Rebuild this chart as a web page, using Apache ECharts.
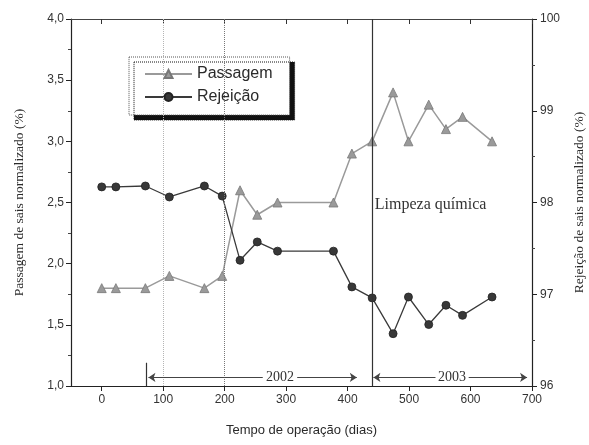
<!DOCTYPE html>
<html>
<head>
<meta charset="utf-8">
<script src="https://cdn.jsdelivr.net/npm/echarts@6/dist/echarts.min.js"></script>
<style>
  html, body { margin: 0; padding: 0; background: #fff; }
  #chart { width: 589px; height: 445px; }
</style>
</head>
<body>
<div id="chart"></div>
<script>
// Operating time (days) of each sample
const dias = [0, 23, 71, 110, 167, 196, 225, 253, 286, 377, 407, 440, 474, 499, 532, 560, 587, 635];
// Normalized salt passage (%), left axis
const passagem = [1.8, 1.8, 1.8, 1.9, 1.8, 1.9, 2.6, 2.4, 2.5, 2.5, 2.9, 3.0, 3.4, 3.0, 3.3, 3.1, 3.2, 3.0];
// Normalized salt rejection (%), right axis
const rejeicao = [98.17, 98.17, 98.18, 98.06, 98.18, 98.07, 97.37, 97.57, 97.47, 97.47, 97.08, 96.96, 96.57, 96.97, 96.67, 96.88, 96.77, 96.97];

// Tick positions on the time axis
const xTicks = [0, 100, 200, 300, 400, 500, 600, 700];

// Day of the chemical cleaning, and the year spans marked below the curves
const diaLimpeza = 440;
const inicio2002 = 72;
const fim2002 = 415;
const fim2003 = 692;

const serif = "'Liberation Serif', 'DejaVu Serif', serif";
const sans = "'Liberation Sans', Arial, sans-serif";
const ink = '#2a2a2a';

const pairs = (ys) => dias.map((d, i) => [d, ys[i]]);

const arrowY = 1.07;
const chart = echarts.init(document.getElementById('chart'), null, { renderer: 'canvas' });

chart.setOption({
  animation: false,
  backgroundColor: '#fff',
  grid: { left: 71, right: 57, top: 19, bottom: 59, containLabel: false, outerBoundsMode: 'none' },
  legend: {
    orient: 'vertical',
    left: 129,
    top: 57,
    padding: [9, 17, 10, 15],
    itemGap: 7,
    itemWidth: 47,
    itemHeight: 10,
    backgroundColor: '#fff',
    borderColor: '#555',
    borderWidth: 1,
    borderType: 'dotted',
    shadowColor: '#111',
    shadowBlur: 0,
    shadowOffsetX: 5,
    shadowOffsetY: 5,
    selectedMode: false,
    textStyle: { fontFamily: sans, fontSize: 16, color: ink, lineHeight: 16 },
    data: ['Passagem', 'Rejeição']
  },
  xAxis: [
    {
      type: 'value', min: -50, max: 700, position: 'bottom',
      name: 'Tempo de operação (dias)', nameLocation: 'middle', nameGap: 38,
      nameTextStyle: { fontFamily: sans, fontSize: 13, color: ink },
      axisLine: { show: true, onZero: false, lineStyle: { color: '#222', width: 1.2 } },
      axisTick: { show: true, customValues: xTicks, length: 5, lineStyle: { color: '#222' } },
      axisLabel: { show: true, customValues: xTicks, fontFamily: sans, fontSize: 12, color: '#333', margin: 8 },
      splitLine: { show: false }
    },
    {
      type: 'value', min: -50, max: 700, position: 'top',
      axisLine: { show: true, onZero: false, lineStyle: { color: '#444', width: 1 } },
      axisTick: { show: true, inside: true, customValues: xTicks, length: 5, lineStyle: { color: '#333' } },
      axisLabel: { show: false },
      splitLine: { show: false }
    }
  ],
  yAxis: [
    {
      type: 'value', min: 1, max: 4, interval: 0.5, position: 'left',
      name: 'Passagem de sais normalizado (%)', nameLocation: 'middle', nameGap: 45, nameRotate: 90,
      nameTextStyle: { fontFamily: serif, fontSize: 13.5, color: ink },
      axisLine: { show: true, onZero: false, lineStyle: { color: '#222', width: 1.2 } },
      axisTick: { show: true, length: 5, lineStyle: { color: '#222' } },
      minorTick: { show: true, splitNumber: 2, length: 3, lineStyle: { color: '#444' } },
      axisLabel: {
        fontFamily: sans, fontSize: 12, color: '#333', margin: 7,
        formatter: (v) => v.toFixed(1).replace('.', ',')
      },
      splitLine: { show: false }
    },
    {
      type: 'value', min: 96, max: 100, interval: 1, position: 'right',
      name: 'Rejeição de sais normalizado (%)', nameLocation: 'middle', nameGap: 40, nameRotate: 90,
      nameTextStyle: { fontFamily: serif, fontSize: 13.5, color: ink },
      axisLine: { show: true, onZero: false, lineStyle: { color: '#222', width: 1.2 } },
      axisTick: { show: true, length: 5, lineStyle: { color: '#222' } },
      minorTick: { show: true, splitNumber: 2, length: 3, lineStyle: { color: '#444' } },
      axisLabel: { fontFamily: sans, fontSize: 12, color: '#333', margin: 8 },
      splitLine: { show: false }
    }
  ],
  series: [
    {
      name: 'Passagem',
      type: 'line',
      xAxisIndex: 0, yAxisIndex: 0,
      data: pairs(passagem),
      symbol: 'triangle', symbolSize: 9,
      itemStyle: { color: '#9a9a9a', borderColor: '#777', borderWidth: 0.8 },
      lineStyle: { color: '#9a9a9a', width: 1.5 },
      emphasis: { disabled: true },
      z: 3,
      markLine: {
        silent: true,
        symbol: ['none', 'none'],
        label: { show: false },
        emphasis: { disabled: true },
        data: [
          { xAxis: 100, lineStyle: { color: '#b5b5b5', type: 'dotted', width: 1 } },
          { xAxis: 200, lineStyle: { color: '#777', type: 'dotted', width: 1 } },
          { xAxis: diaLimpeza, lineStyle: { color: '#333', type: 'solid', width: 1.2 } },
          [
            { coord: [inicio2002, 1.0], lineStyle: { color: '#333', type: 'solid', width: 1.2 } },
            { coord: [inicio2002, 1.19] }
          ],
          [
            { coord: [inicio2002 + 4, arrowY], symbol: 'arrow', symbolSize: 7, lineStyle: { color: '#444', type: 'solid', width: 1 } },
            { coord: [262, arrowY], symbol: 'none' }
          ],
          [
            { coord: [318, arrowY], symbol: 'none', lineStyle: { color: '#444', type: 'solid', width: 1 } },
            { coord: [fim2002, arrowY], symbol: 'arrow', symbolSize: 7 }
          ],
          [
            { coord: [diaLimpeza + 2, arrowY], symbol: 'arrow', symbolSize: 7, lineStyle: { color: '#444', type: 'solid', width: 1 } },
            { coord: [543, arrowY], symbol: 'none' }
          ],
          [
            { coord: [597, arrowY], symbol: 'none', lineStyle: { color: '#444', type: 'solid', width: 1 } },
            { coord: [fim2003, arrowY], symbol: 'arrow', symbolSize: 7 }
          ]
        ]
      },
      markPoint: {
        silent: true,
        symbolSize: 0,
        data: [
          { coord: [290, arrowY], label: { show: true, position: 'inside', formatter: '2002', fontFamily: serif, fontSize: 14, color: '#333' } },
          { coord: [570, arrowY], label: { show: true, position: 'inside', formatter: '2003', fontFamily: serif, fontSize: 14, color: '#333' } },
          { coord: [535, 2.48], label: { show: true, position: 'inside', formatter: 'Limpeza química', fontFamily: serif, fontSize: 16, color: '#333' } }
        ]
      }
    },
    {
      name: 'Rejeição',
      type: 'line',
      xAxisIndex: 0, yAxisIndex: 1,
      data: pairs(rejeicao),
      symbol: 'circle', symbolSize: 8,
      itemStyle: { color: '#383838', borderColor: '#222', borderWidth: 0.8 },
      lineStyle: { color: '#3a3a3a', width: 1.3 },
      emphasis: { disabled: true },
      z: 4
    }
  ]
});
</script>
</body>
</html>
